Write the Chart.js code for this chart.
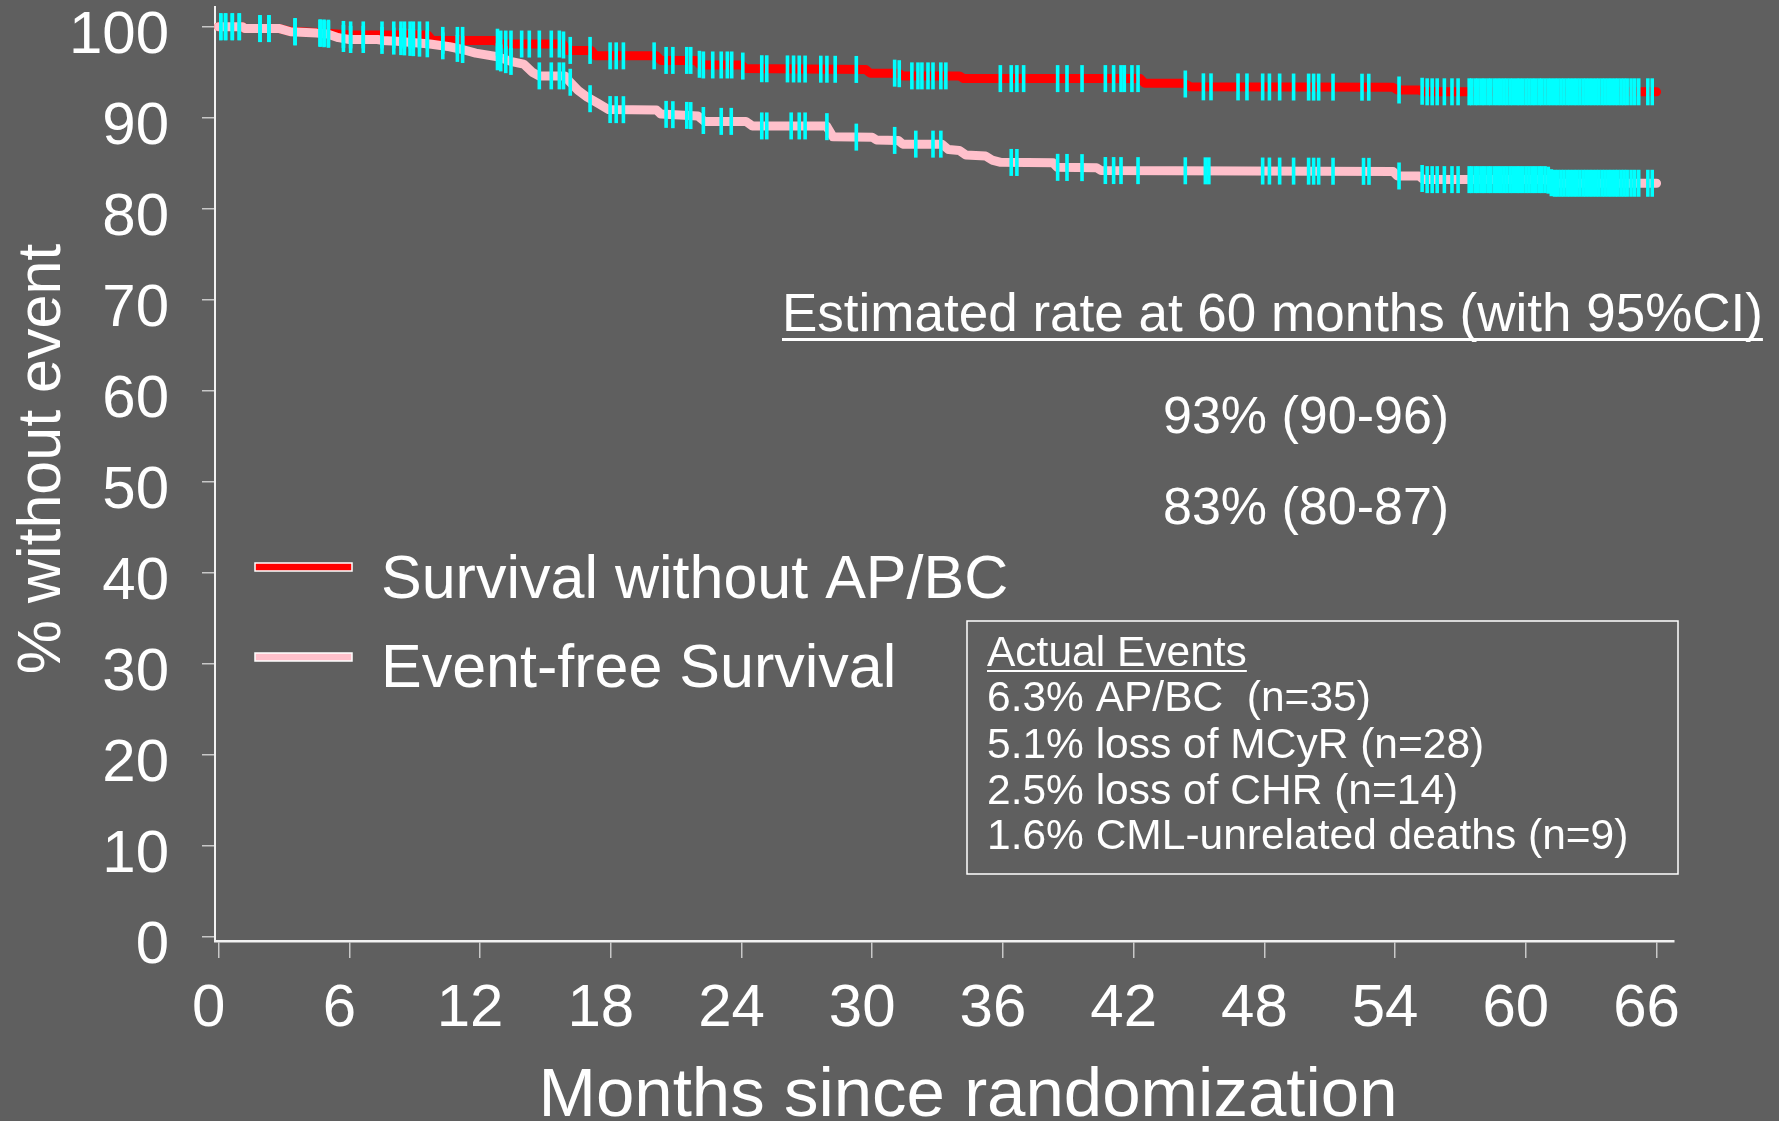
<!DOCTYPE html>
<html>
<head>
<meta charset="utf-8">
<script src="https://cdn.jsdelivr.net/npm/chart.js@4.4.0/dist/chart.umd.min.js"></script>
<style>
html,body{margin:0;padding:0;background:#5f5f5f;overflow:hidden}
#wrap{width:1779px;height:1121px;position:relative}
canvas{display:block}
</style>
</head>
<body>
<div id="wrap"><canvas id="c" width="1779" height="1121"></canvas></div>
<script>
// ---------------- data ----------------
const xTickValues = [0, 6, 12, 18, 24, 30, 36, 42, 48, 54, 60, 66];
const yTickValues = [0, 10, 20, 30, 40, 50, 60, 70, 80, 90, 100];

const xAxisTitle = 'Months since randomization';
const yAxisTitle = '% without event';
const seriesNames = ['Survival without AP/BC', 'Event-free Survival'];

// Survival without AP/BC (red)
const survMonths = [0, 1.1, 1.2, 2.8, 3.3, 5.0, 6.0, 9.6, 9.8, 12.7, 12.9, 15.8, 16.0, 17.1, 17.3, 20.1, 20.3, 21.9, 22.1, 24.0, 24.2, 29.7, 29.9, 31.2, 31.4, 34.0, 34.2, 42.3, 42.5, 44.3, 44.6, 53.9, 54.1, 55.1, 55.3, 66.0];
const survValues = [100, 100, 99.8, 99.8, 99.5, 99.3, 99.1, 99.1, 98.5, 98.5, 98.1, 98.1, 97.4, 97.4, 96.8, 96.8, 96.3, 96.3, 95.8, 95.8, 95.4, 95.3, 94.9, 94.9, 94.6, 94.6, 94.3, 94.3, 93.8, 93.8, 93.4, 93.35, 93.05, 93.05, 92.85, 92.85];

// Event-free survival (pink)
const efsMonths = [0, 1.1, 1.2, 2.8, 3.3, 4.5, 5.0, 5.5, 6.0, 7.3, 7.5, 8.2, 9.7, 10.6, 11.2, 11.8, 12.8, 13.4, 14.0, 14.4, 14.7, 15.9, 16.1, 16.5, 16.9, 17.4, 17.9, 20.1, 20.3, 22.0, 22.3, 24.2, 24.5, 27.9, 28.2, 30.0, 30.2, 31.2, 31.4, 33.2, 33.5, 34.0, 34.3, 35.2, 35.5, 35.9, 38.3, 38.5, 40.3, 40.5, 53.9, 54.1, 55.1, 55.3, 61.0, 61.2, 66.0];
const efsValues = [100, 100, 99.8, 99.8, 99.45, 99.3, 99.2, 98.8, 98.6, 98.6, 98.5, 98.4, 98.1, 97.8, 97.5, 97.1, 96.7, 96.2, 95.9, 95.0, 94.6, 94.6, 94.0, 93.0, 92.3, 91.6, 90.9, 90.85, 90.4, 90.2, 89.6, 89.6, 89.1, 89.1, 87.9, 87.85, 87.55, 87.5, 87.1, 87.1, 86.5, 86.4, 85.9, 85.8, 85.35, 85.1, 85.05, 84.55, 84.5, 84.2, 84.1, 83.6, 83.6, 83.2, 83.2, 82.8, 82.8];

// censoring times (months)
const survCensored = [0.1, 0.32, 0.63, 0.95, 1.9, 2.31, 3.51, 4.66, 4.84, 5.04, 5.73, 6.06, 6.64, 7.5, 8.04, 8.37, 8.53, 8.79, 8.94, 9.22, 9.58, 10.29, 10.96, 11.2, 12.8, 12.95, 13.18, 13.42, 13.91, 14.26, 14.72, 15.27, 15.64, 15.83, 16.14, 17.05, 17.97, 18.25, 18.58, 19.99, 20.54, 20.85, 21.49, 21.67, 22.07, 22.25, 22.68, 23.07, 23.35, 23.55, 24.06, 24.93, 25.16, 26.11, 26.39, 26.65, 26.92, 27.64, 27.92, 28.3, 29.27, 31.03, 31.24, 31.82, 32.1, 32.28, 32.56, 32.79, 33.15, 33.38, 35.88, 36.38, 36.64, 36.95, 38.51, 38.94, 39.63, 40.7, 41.08, 41.42, 41.57, 41.92, 42.2, 44.37, 45.2, 45.55, 46.79, 47.2, 47.92, 48.23, 48.7, 49.34, 50.03, 50.26, 50.49, 51.15, 52.48, 52.79, 54.18, 55.24, 55.47, 55.7, 55.93, 56.26, 56.61, 56.89,
  57.40, 57.52, 57.68, 57.81, 57.97, 58.10, 58.26, 58.39, 58.55, 58.70, 58.84, 58.99, 59.13, 59.28, 59.42, 59.58, 59.71, 59.86, 60.01, 60.15, 60.30, 60.44, 60.60, 60.73, 60.88, 61.03, 61.17, 61.32, 61.46, 61.61, 61.75, 61.90, 62.04, 62.19, 62.33, 62.48, 62.63, 62.77, 62.92, 63.06, 63.21, 63.35, 63.50, 63.64, 63.79, 63.93, 64.08, 64.22, 64.37, 64.51, 64.65,
  64.83, 65.0, 65.18, 65.6, 65.8];
const efsCensored = [0.1, 0.32, 0.63, 0.95, 1.9, 2.31, 3.51, 4.66, 4.84, 5.04, 5.73, 6.06, 6.64, 7.5, 8.04, 8.37, 8.53, 8.79, 8.94, 9.22, 9.58, 10.29, 10.96, 11.2, 12.8, 12.95, 13.18, 13.42, 14.72, 15.27, 15.64, 15.83, 16.14, 17.05, 17.97, 18.25, 18.58, 20.54, 20.85, 21.49, 21.67, 22.25, 23.07, 23.53, 24.93, 25.16, 26.28, 26.65, 26.92, 27.92, 29.27, 31.03, 32.0, 32.79, 33.15, 36.38, 36.64, 38.51, 38.94, 39.63, 40.7, 41.08, 41.42, 42.2, 44.37, 45.29, 45.45, 47.92, 48.23, 48.7, 49.34, 50.03, 50.26, 50.49, 51.15, 52.55, 52.8, 54.18, 55.24, 55.47, 55.7, 55.93, 56.26, 56.61, 56.89,
  57.40, 57.52, 57.68, 57.81, 57.97, 58.10, 58.26, 58.39, 58.55, 58.70, 58.84, 58.99, 59.13, 59.28, 59.42, 59.58, 59.71, 59.86, 60.01, 60.15, 60.30, 60.44, 60.60, 60.73, 60.88, 61.03, 61.17, 61.32, 61.46, 61.61, 61.75, 61.90, 62.04, 62.19, 62.33, 62.48, 62.63, 62.77, 62.92, 63.06, 63.21, 63.35, 63.50, 63.64, 63.79, 63.93, 64.08, 64.22, 64.37, 64.51, 64.65,
  64.83, 65.0, 65.18, 65.6, 65.8];

const rateHeading = 'Estimated rate at 60 months (with 95%CI)';
const rateLines = ['93% (90-96)', '83% (80-87)'];
const eventsHeading = 'Actual Events';
const eventsLines = ['6.3% AP/BC  (n=35)', '5.1% loss of MCyR (n=28)', '2.5% loss of CHR (n=14)', '1.6% CML-unrelated deaths (n=9)'];

// ---------------- styling ----------------
const BG = '#5f5f5f';
const FONT = '"Liberation Sans", Arial, sans-serif';
const RED = '#ff0000';
const PINK = '#ffc0cb';
const CYAN = '#00ffff';

function toPoints(xs, ys) { return xs.map((x, i) => ({ x: x, y: ys[i] })); }
function valueAt(xs, ys, t) {
  for (let i = 0; i < xs.length - 1; i++) {
    if (t >= xs[i] && t <= xs[i + 1]) {
      const f = (t - xs[i]) / (xs[i + 1] - xs[i]);
      return ys[i] + f * (ys[i + 1] - ys[i]);
    }
  }
  return ys[ys.length - 1];
}
function censorPoints(times, xs, ys) { return times.map(t => ({ x: t, y: valueAt(xs, ys, t) })); }

function textU(ctx, str, x, y, uy, lw) {
  ctx.fillText(str, x, y);
  const w = ctx.measureText(str).width;
  ctx.fillRect(x, uy, w, lw);
}

const decor = {
  id: 'decor',
  beforeDraw(chart) {
    const ctx = chart.ctx;
    ctx.save();
    ctx.fillStyle = BG;
    ctx.fillRect(0, 0, chart.width, chart.height);
    ctx.restore();
  },
  afterDraw(chart) {
    const ctx = chart.ctx;
    ctx.save();
    ctx.fillStyle = '#ffffff';
    ctx.textBaseline = 'alphabetic';
    ctx.textAlign = 'left';

    // axis titles
    ctx.font = '69px ' + FONT;
    ctx.textAlign = 'center';
    ctx.fillText(xAxisTitle, 968, 1116);
    ctx.save();
    ctx.translate(60, 459);
    ctx.rotate(-Math.PI / 2);
    ctx.font = '61px ' + FONT;
    ctx.fillText(yAxisTitle, 0, 0);
    ctx.restore();

    // legend
    ctx.textAlign = 'left';
    const legendColors = [RED, PINK];
    const legendY = [563, 653];
    const legendBase = [598, 687];
    for (let i = 0; i < 2; i++) {
      ctx.fillStyle = legendColors[i];
      ctx.fillRect(255, legendY[i], 97, 8);
      ctx.strokeStyle = '#ffffff';
      ctx.lineWidth = 1.5;
      ctx.strokeRect(255, legendY[i], 97, 8);
      ctx.fillStyle = '#ffffff';
      ctx.font = '61px ' + FONT;
      ctx.fillText(seriesNames[i], 381, legendBase[i]);
    }

    // estimated rates
    ctx.font = '53px ' + FONT;
    textU(ctx, rateHeading, 782, 331, 338, 3);
    ctx.font = '52px ' + FONT;
    ctx.fillText(rateLines[0], 1163, 433);
    ctx.fillText(rateLines[1], 1163, 524);

    // actual events box
    ctx.strokeStyle = '#ffffff';
    ctx.lineWidth = 1.5;
    ctx.strokeRect(967, 621, 711, 253);
    ctx.font = '42.5px ' + FONT;
    textU(ctx, eventsHeading, 987, 666, 670, 2);
    const base = [711, 758, 804, 849];
    eventsLines.forEach((s, i) => ctx.fillText(s, 987, base[i]));
    ctx.restore();
  }
};

Chart.defaults.font.family = FONT;

new Chart(document.getElementById('c'), {
  type: 'scatter',
  data: {
    datasets: [
      {
        label: seriesNames[0] + ' censored',
        data: censorPoints(survCensored, survMonths, survValues),
        pointStyle: 'line', rotation: 90, radius: 13.5, pointRadius: 13.5,
        borderColor: CYAN, backgroundColor: CYAN, pointBorderWidth: 3.6, borderWidth: 3.6,
        showLine: false, order: 0, clip: false
      },
      {
        label: seriesNames[1] + ' censored',
        data: censorPoints(efsCensored, efsMonths, efsValues),
        pointStyle: 'line', rotation: 90, radius: 13.5, pointRadius: 13.5,
        borderColor: CYAN, backgroundColor: CYAN, pointBorderWidth: 3.6, borderWidth: 3.6,
        showLine: false, order: 0, clip: false
      },
      {
        label: seriesNames[1],
        data: toPoints(efsMonths, efsValues),
        showLine: true, borderColor: PINK, backgroundColor: PINK, borderWidth: 9,
        pointRadius: 0, tension: 0, borderCapStyle: 'round', borderJoinStyle: 'round',
        order: 1, clip: false
      },
      {
        label: seriesNames[0],
        data: toPoints(survMonths, survValues),
        showLine: true, borderColor: RED, backgroundColor: RED, borderWidth: 9,
        pointRadius: 0, tension: 0, borderCapStyle: 'round', borderJoinStyle: 'round',
        order: 2, clip: false
      }
    ]
  },
  options: {
    responsive: false,
    animation: false,
    devicePixelRatio: 1,
    events: [],
    layout: { autoPadding: false, padding: { top: 7, right: 105, left: 0, bottom: 0 } },
    plugins: { legend: { display: false }, tooltip: { enabled: false }, title: { display: false } },
    scales: {
      x: {
        type: 'linear', min: -0.165, max: 66.8,
        afterBuildTicks(scale) { scale.ticks = xTickValues.map(v => ({ value: v })); },
        afterFit(scale) { scale.height = 180; scale.paddingLeft = 0; scale.paddingRight = 0; },
        ticks: { color: '#ffffff', font: { size: 60 }, padding: 15, labelOffset: -10, maxRotation: 0, autoSkip: false,
                 callback: v => String(v) },
        grid: { drawOnChartArea: false, drawTicks: true, tickLength: 17, color: '#c8c8c8', lineWidth: 1.5 },
        border: { display: true, color: '#f2f2f2', width: 2.5 }
      },
      y: {
        type: 'linear', min: -0.47, max: 102.17,
        afterBuildTicks(scale) { scale.ticks = yTickValues.map(v => ({ value: v })); },
        afterFit(scale) { scale.width = 215; scale.paddingTop = 0; scale.paddingBottom = 0; },
        ticks: { color: '#ffffff', font: { size: 60 }, padding: 33, labelOffset: 10, autoSkip: false,
                 callback: v => String(v) },
        grid: { drawOnChartArea: false, drawTicks: true, tickLength: 13, color: '#c8c8c8', lineWidth: 1.5 },
        border: { display: true, color: '#f2f2f2', width: 2 }
      }
    }
  },
  plugins: [decor]
});
</script>
</body>
</html>
